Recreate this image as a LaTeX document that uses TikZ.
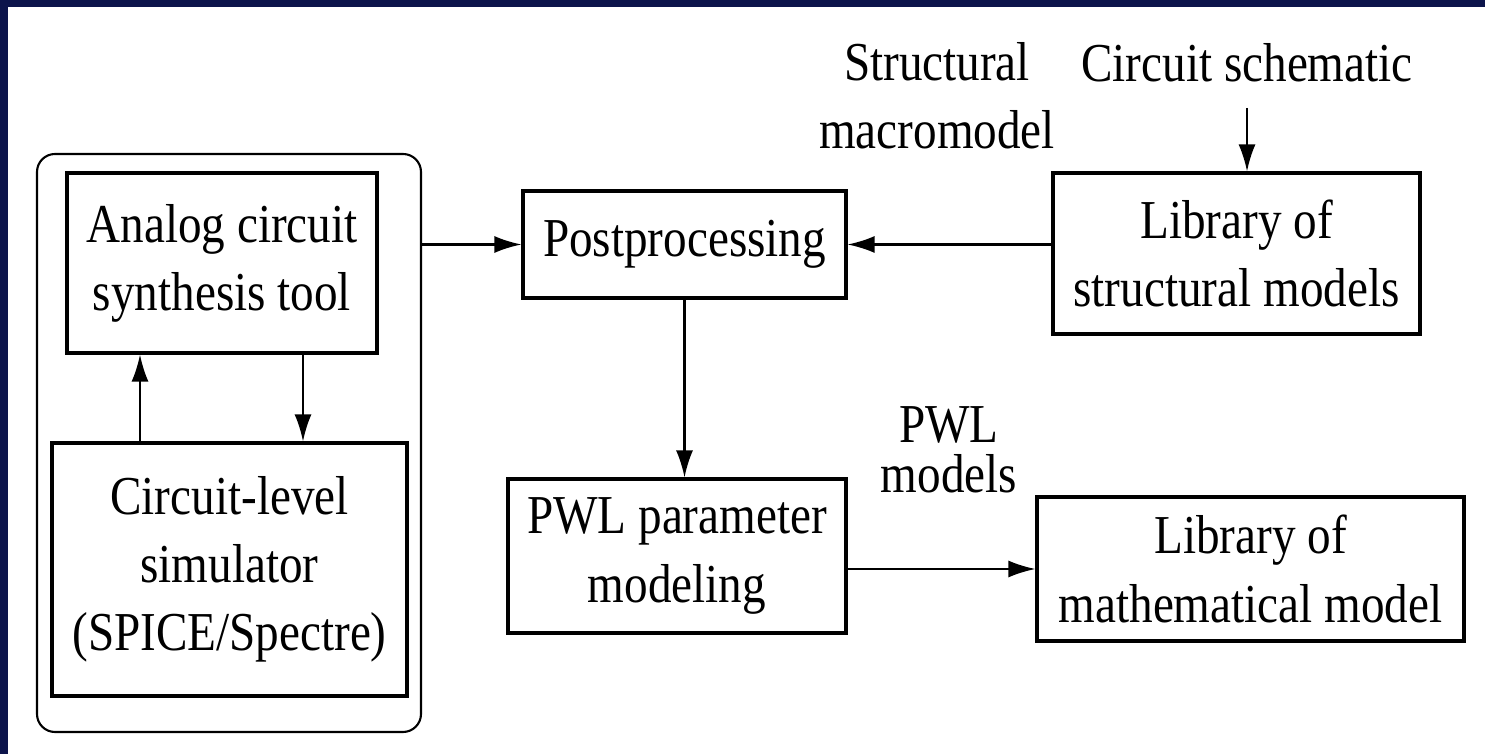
\documentclass[tikz,border=0pt]{standalone}
\usepackage{fontspec}
\setmainfont{Liberation Serif}[FakeStretch=0.86]
\usetikzlibrary{arrows.meta}
\tikzset{>={Latex[length=2.7mm,width=1.7mm]}}
\definecolor{slideblue}{RGB}{12,20,75}
\tikzset{
    block/.style = {draw, line width=0.9pt, align=center, inner sep=0pt},
    note/.style = {align=center},
    flow/.style = {->, line width=0.6pt}
}

\begin{document}
\begin{tikzpicture}[every node/.style={font=\fontsize{15.6pt}{19.4pt}\selectfont}]
            \useasboundingbox (0, 0) rectangle (14.85, 7.54);
            \fill[slideblue] (0, 7.47) rectangle (14.85, 7.54);
            \fill[slideblue] (0, 0) rectangle (0.08, 7.54);

            % synthesis loop
            \node[draw, line width=0.6pt, rounded corners=0.18cm, minimum width=3.84cm, minimum height=5.78cm] (loop) at (2.29, 3.11) {};
            \node[block, minimum width=3.1cm, minimum height=1.8cm] (synth) at (2.22, 4.91) {Analog circuit\\synthesis tool};
            \node[block, minimum width=3.55cm, minimum height=2.53cm] (sim) at (2.295, 1.845) {Circuit-level\\simulator\\(SPICE/Spectre)};

            % modeling flow
            \node[block, minimum width=3.23cm, minimum height=1.07cm] (post) at (6.845, 5.095) {Postprocessing};
            \node[block, minimum width=3.67cm, minimum height=1.61cm] (libstruct) at (12.365, 5.005) {Library of\\structural models};
            \node[block, minimum width=3.38cm, minimum height=1.54cm] (pwl) at (6.77, 1.98) {PWL parameter\\modeling};
            \node[block, minimum width=4.27cm, minimum height=1.44cm] (libmath) at (12.505, 1.85) {Library of\\mathematical model};

            % labels
            \node[anchor=base] (schem) at (12.47, 6.72) {Circuit schematic};
            \node[note] (macro) at (9.37, 6.585) {Structural\\macromodel};
            \node[note, font=\fontsize{15.6pt}{14.2pt}\selectfont] (pwlout) at (9.49, 3.04) {PWL\\models};

            \coordinate (upleg) at (1.40, 0);
            \coordinate (downleg) at (3.03, 0);
            \draw[flow] (upleg |- sim.north) -- (upleg |- synth.south);
            \draw[flow] (downleg |- synth.south) -- (downleg |- sim.north);
            \draw[flow] (loop.east |- post.west) -- (post.west);
            \draw[flow] (post.east -| libstruct.west) -- (post.east);
            \draw[flow, shorten <=1.3mm] (schem) -- (schem |- libstruct.north);
            \draw[flow] (post.south) -- (post.south |- pwl.north);
            \draw[flow] (libmath.west -| pwl.east) -- (libmath.west);
\end{tikzpicture}
\end{document}
